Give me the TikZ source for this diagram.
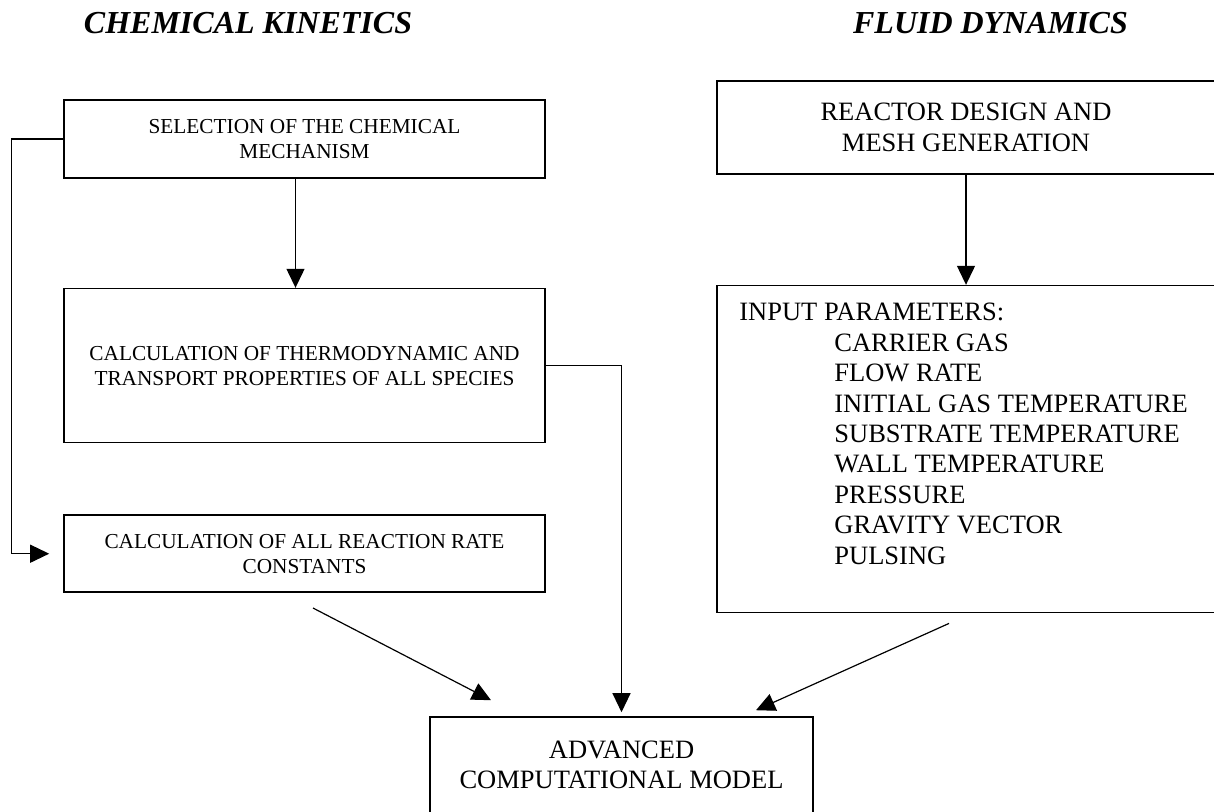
\documentclass[tikz,border=0pt]{standalone}
\usepackage{fontspec}
\setmainfont{Liberation Serif}
\usetikzlibrary{positioning}
\usetikzlibrary{arrows.meta}
\def\boxline{thick}
\newcommand{\smallboxfont}{\fontsize{10.65pt}{12.5pt}\selectfont}
\newcommand{\bigboxfont}{\fontsize{13.25pt}{15.2pt}\selectfont}
\newcommand{\headingfont}{\fontsize{16pt}{19pt}\selectfont\bfseries\itshape}
\tikzset{
stage/.style 2 args={draw, \boxline, minimum width=#1, minimum height=#2,
	align=center, inner sep=0pt, font=\smallboxfont},
flow/.style={-{Triangle[length=9.5pt,width=9pt]}, semithick},
heading/.style={font=\headingfont, inner sep=0pt},
}

\begin{document}
\begin{tikzpicture}[x=0.5pt, y=-0.5pt]
	\useasboundingbox (0,0) rectangle (1214,811);
	\node[heading] (kin) at (248,23.5) {CHEMICAL KINETICS};
	\node[heading] (fluid) at (990.5,23.5) {FLUID DYNAMICS};
	
	%
	\node[stage={240.5pt}{39pt}] (select) at (304.5,139) {SELECTION OF THE CHEMICAL\\MECHANISM};
	\node[stage={240.5pt}{77pt}, below=54.5pt of select] (thermo) {CALCULATION OF THERMODYNAMIC AND\\TRANSPORT PROPERTIES OF ALL SPECIES};
	\node[stage={240.5pt}{38.5pt}, below=35.5pt of thermo] (rates) {CALCULATION OF ALL REACTION RATE\\CONSTANTS};
	
	%
	\node[stage={249pt}{46.5pt}, font=\bigboxfont] (reactor) at (966,127.5) {REACTOR DESIGN AND\\MESH GENERATION};
	\node[stage={249pt}{163.5pt}, below=55pt of reactor] (params) {};
	\node[anchor=north west, align=left, inner sep=0pt, font=\bigboxfont] (plist) at (739,303) {INPUT PARAMETERS:\\
		\hspace*{47.5pt}CARRIER GAS\\
		\hspace*{47.5pt}FLOW RATE\\
		\hspace*{47.5pt}INITIAL GAS TEMPERATURE\\
		\hspace*{47.5pt}SUBSTRATE TEMPERATURE\\
		\hspace*{47.5pt}WALL TEMPERATURE\\
		\hspace*{47.5pt}PRESSURE\\
		\hspace*{47.5pt}GRAVITY VECTOR\\
		\hspace*{47.5pt}PULSING};
	
	\node[stage={191.5pt}{48pt}, font=\bigboxfont] (model) at (621.5,765) {ADVANCED\\COMPUTATIONAL MODEL};
	
	%
	\coordinate[below=7.5pt of rates.south, xshift=4.25pt] (ratesout);
	\coordinate[below=5pt of params.south, xshift=-8.5pt] (paramsout);
	\coordinate[above=8pt of model.north, xshift=-65.25pt] (modelleft);
	\coordinate[above=3pt of model.north, xshift=67.25pt] (modelright);
	
	%
	\draw[flow, shorten >=7pt] (select.west) -- ++(-26pt,0pt) |- (rates.west);
	\draw[flow] ([xshift=-4.5pt]select.south) -- ([xshift=-4.5pt]thermo.north);
	\draw[flow] (reactor) -- (params);
	\draw[flow, shorten >=2pt] (thermo.east) -| (model.north);
	\draw[flow] (ratesout) -- (modelleft);
	\draw[flow] (paramsout) -- (modelright);
\end{tikzpicture}
\end{document}
